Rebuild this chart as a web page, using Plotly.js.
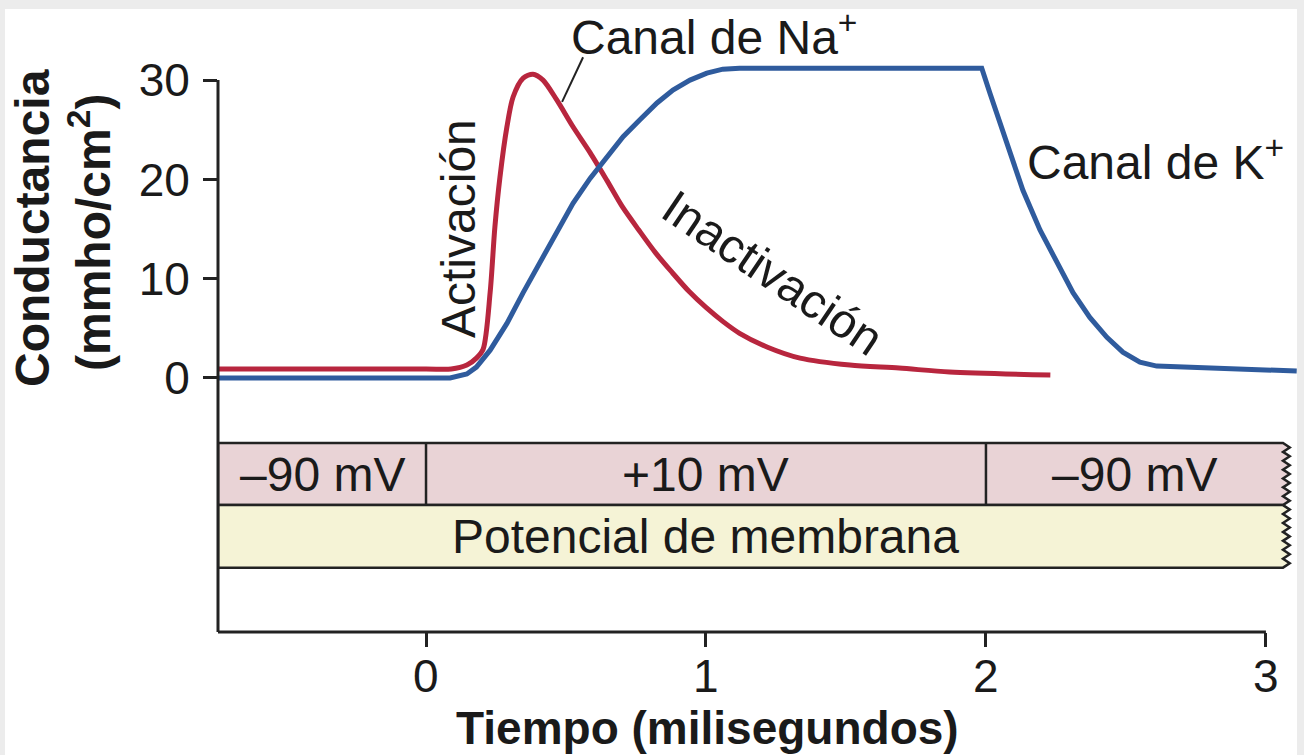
<!DOCTYPE html>
<html>
<head>
<meta charset="utf-8">
<script src="https://cdn.plot.ly/plotly-3.0.1.min.js"></script>
<style>
  html, body { margin: 0; padding: 0; background: #ececec; }
  #graph { position: absolute; left: 5px; top: 9px; width: 1292px; height: 746px; }
</style>
</head>
<body>
<div id="graph"></div>
<script>
// conductance curves, time in ms, conductance in mmho/cm2
const tNa = [-0.743, 0.0, 0.09, 0.146, 0.18, 0.204, 0.229, 0.246, 0.264, 0.289, 0.311, 0.347, 0.382, 0.418, 0.467, 0.525, 0.586, 0.646, 0.70, 0.76, 0.82, 0.88, 0.94, 1.0, 1.06, 1.12, 1.22, 1.336, 1.514, 1.69, 1.87, 2.23];
const gNa = [0.9, 0.9, 0.9, 1.3, 2.0, 2.9, 8.6, 15.2, 20.2, 25.3, 28.3, 30.2, 30.6, 30.0, 28.0, 25.3, 22.7, 19.9, 17.3, 14.9, 12.6, 10.6, 8.7, 7.1, 5.7, 4.5, 3.1, 2.0, 1.3, 1.0, 0.6, 0.3];

const tK = [-0.743, 0.086, 0.146, 0.18, 0.229, 0.289, 0.347, 0.407, 0.467, 0.525, 0.586, 0.646, 0.704, 0.764, 0.825, 0.882, 0.943, 1.003, 1.06, 1.12, 1.985, 2.014, 2.075, 2.132, 2.193, 2.254, 2.311, 2.371, 2.432, 2.489, 2.55, 2.61, 2.79, 3.11];
const gK = [0.0, 0.0, 0.4, 1.1, 2.8, 5.5, 8.6, 11.6, 14.6, 17.6, 20.1, 22.3, 24.3, 26.0, 27.7, 29.0, 30.0, 30.7, 31.1, 31.2, 31.2, 28.7, 23.7, 18.9, 14.9, 11.6, 8.6, 6.1, 4.1, 2.6, 1.6, 1.2, 1.0, 0.7];

const yTicks = [0, 10, 20, 30];
const xTicks = [0, 1, 2, 3];

// membrane potential steps
const stepEdges = [-0.743, 0, 2, 3.061];
const stepLabels = ['–90 mV', '+10 mV', '–90 mV'];
const bandLabel = 'Potencial de membrana';

const xr = [-0.743, 3.111];
const yr = [-25.58, 37.16];
const font = 'Liberation Sans, Arial, sans-serif';
const ink = '#1a1a1a';

// page pixel -> paper coords (plot area is page x 218..1297, y 9..632)
function pX(px) { return (px - 218) / 1079; }
function pY(py) { return 1 - (py - 9) / 623; }
function dY(g) { return (g - yr[0]) / (yr[1] - yr[0]); }
function dX(t) { return (t - xr[0]) / (xr[1] - xr[0]); }

const pinkTop = -6.55, pinkBot = -12.8, yelBot = -19.1;

function zigzag(x0, x1, yTop, yBot) {
    let n = 14, amp = 0.024;
    let p = 'M ' + x0 + ',' + yTop + ' L ' + x1 + ',' + yTop;
    for (let i = 1; i <= n; i++) {
        let y = yTop + (yBot - yTop) * i / n;
        let x = (i % 2 == 1 && i < n) ? x1 + amp : x1;
        p += ' L ' + x + ',' + y;
    }
    p += ' L ' + x0 + ',' + yBot + ' Z';
    return p;
}

let x0 = stepEdges[0], xEnd = stepEdges[stepEdges.length - 1];
let shapes = [
    { type: 'path', xref: 'x', yref: 'y', path: zigzag(x0, xEnd, pinkTop, pinkBot),
      fillcolor: '#e9d3d6', line: { color: '#222', width: 2.5 } },
    { type: 'path', xref: 'x', yref: 'y', path: zigzag(x0, xEnd, pinkBot, yelBot),
      fillcolor: '#f5f3d6', line: { color: '#222', width: 2.5 } },
    // axis lines
    { type: 'line', xref: 'paper', yref: 'paper', x0: 0, x1: 0, y0: 0, y1: dY(30),
      line: { color: '#222', width: 3 } },
    { type: 'line', xref: 'paper', yref: 'paper', x0: 0, x1: dX(3), y0: 0, y1: 0,
      line: { color: '#222', width: 3 } },
    // pointer to Na curve
    { type: 'line', xref: 'x', yref: 'y', x0: 0.486, y0: 27.8, x1: 0.561, y1: 32.3,
      line: { color: '#222', width: 2 } }
];
for (let i = 1; i < stepEdges.length - 1; i++) {
    shapes.push({ type: 'line', xref: 'x', yref: 'y', x0: stepEdges[i], x1: stepEdges[i],
        y0: pinkTop, y1: pinkBot, line: { color: '#222', width: 2.5 } });
}

let base = { showarrow: false, xanchor: 'center', yanchor: 'middle' };
let annotations = [];
for (let i = 0; i < stepLabels.length; i++) {
    annotations.push(Object.assign({}, base, { x: (stepEdges[i] + stepEdges[i + 1]) / 2, y: (pinkTop + pinkBot) / 2,
        xref: 'x', yref: 'y', text: stepLabels[i], font: { size: 48 } }));
}
annotations.push(Object.assign({}, base, { x: 1.0, y: (pinkBot + yelBot) / 2, xref: 'x', yref: 'y',
    text: bandLabel, font: { size: 48 } }));

// x tick labels
xTicks.forEach(function(v) {
    annotations.push(Object.assign({}, base, { x: v, y: pY(676), xref: 'x', yref: 'paper',
        text: String(v), font: { size: 46 } }));
});

[
    { x: 1.029, y: 34.6, xref: 'x', yref: 'y', text: 'Canal de Na<sup>+</sup>', font: { size: 48 } },
    { x: 2.607, y: 22.1, xref: 'x', yref: 'y', text: 'Canal de K<sup>+</sup>', font: { size: 48 } },
    { x: 0.114, y: 15.1, xref: 'x', yref: 'y', text: 'Activación', textangle: -90, font: { size: 48 } },
    { x: 1.236, y: 10.6, xref: 'x', yref: 'y', text: 'Inactivación', textangle: 34, font: { size: 48 } },
    { x: pX(33), y: pY(228), xref: 'paper', yref: 'paper', text: '<b>Conductancia</b>', textangle: -90, font: { size: 48 } },
    { x: pX(90), y: pY(233), xref: 'paper', yref: 'paper', text: '<b>(mmho/cm<sup>2</sup>)</b>', textangle: -90, font: { size: 48 } },
    { x: pX(707), y: pY(728), xref: 'paper', yref: 'paper', text: '<b>Tiempo (milisegundos)</b>', font: { size: 46 } }
].forEach(function(a) { annotations.push(Object.assign({}, base, a)); });

let traceNa = {
    x: tNa, y: gNa, mode: 'lines', name: 'Canal de Na+',
    line: { color: '#b8263e', width: 5, shape: 'spline', smoothing: 0.8 }
};
let traceK = {
    x: tK, y: gK, mode: 'lines', name: 'Canal de K+',
    line: { color: '#2f5b9d', width: 5, shape: 'linear' }
};

let layout = {
    width: 1292, height: 746,
    margin: { l: 213, r: 0, t: 0, b: 123 },
    paper_bgcolor: 'white', plot_bgcolor: 'rgba(0,0,0,0)',
    showlegend: false,
    font: { family: font, color: ink },
    xaxis: {
        range: xr, showgrid: false, zeroline: false, showline: false, showticklabels: false,
        tickmode: 'array', tickvals: xTicks, ticks: 'outside', ticklen: 14, tickwidth: 3, tickcolor: '#222'
    },
    yaxis: {
        range: yr, showgrid: false, zeroline: false, showline: false,
        tickmode: 'array', tickvals: yTicks, ticks: 'outside', ticklen: 14, tickwidth: 3, tickcolor: '#222',
        tickfont: { size: 46, color: ink }, ticklabelstandoff: 4
    },
    shapes: shapes,
    annotations: annotations
};

Plotly.newPlot('graph', [traceNa, traceK], layout, { staticPlot: true });
</script>
</body>
</html>
